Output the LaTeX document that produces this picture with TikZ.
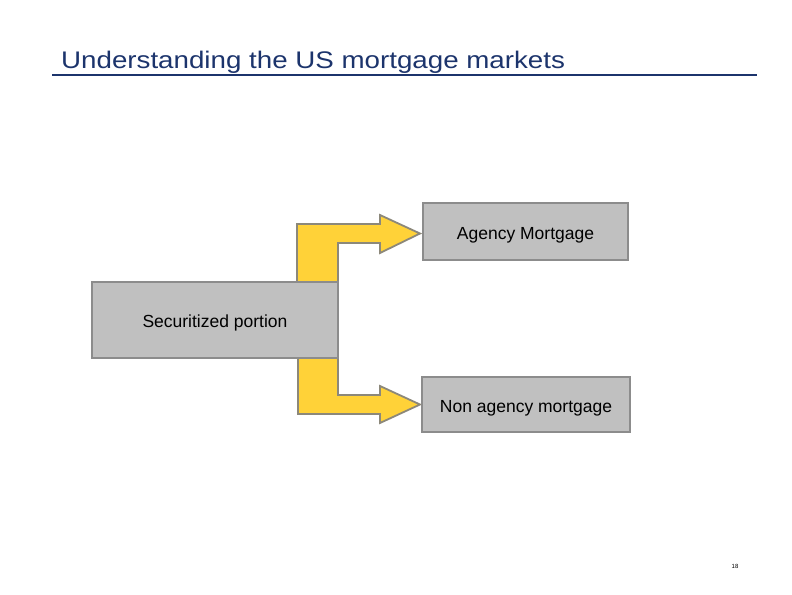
\documentclass[tikz,border=0pt]{standalone}
\usepackage{fontspec}
\setmainfont{Liberation Sans}
\newfontfamily\titlefont[FakeStretch=1.155]{Liberation Sans}
\definecolor{navy}{RGB}{28,52,108}
\definecolor{boxfill}{RGB}{192,192,192}
\definecolor{boxline}{RGB}{140,140,140}
\definecolor{arrfill}{RGB}{255,210,56}
\definecolor{arrline}{RGB}{140,136,122}
\begin{document}
\begin{tikzpicture}[x=1pt,y=-1pt,
  gbox/.style={draw=boxline,line width=1.8pt,fill=boxfill,inner sep=0pt,text height=15pt,text depth=0pt,font=\fontsize{17.5}{20}\selectfont},
  bentarrow/.style={draw=arrline,line width=1.8pt,fill=arrfill,line join=miter}]
\useasboundingbox (0,0) rectangle (792,594);
% title
\node[anchor=base west,inner sep=0pt,text=navy,font=\titlefont\fontsize{24}{28}\selectfont] (title) at (61,68) {Understanding the US mortgage markets};
\coordinate (ul1) at (52,74.5);
\coordinate (ul2) at (757,74.5);
\draw[navy,line width=2pt] (ul1) -- (ul2);
% arrows
\draw[bentarrow] (297,282) -- (297,224) -- (380,224) -- (380,215) -- (420,233.5) -- (380,253) -- (380,243) -- (338,243) -- (338,282) -- cycle;
\draw[bentarrow] (298,357) -- (298,414) -- (380,414) -- (380,423) -- (420,404.5) -- (380,386) -- (380,395) -- (338,395) -- (338,357) -- cycle;
% boxes
\node[gbox,minimum width=246pt,minimum height=76pt] (sec) at (215,320) {Securitized portion};
\node[gbox,minimum width=205pt,minimum height=57pt] (agency) at (525.5,231.5) {Agency Mortgage};
\node[gbox,minimum width=208pt,minimum height=55pt] (nonagency) at (526,404.5) {Non agency mortgage};
% page number
\node[font=\fontsize{6}{7}\selectfont,inner sep=0pt] (page) at (735,566) {18};
\end{tikzpicture}
\end{document}
